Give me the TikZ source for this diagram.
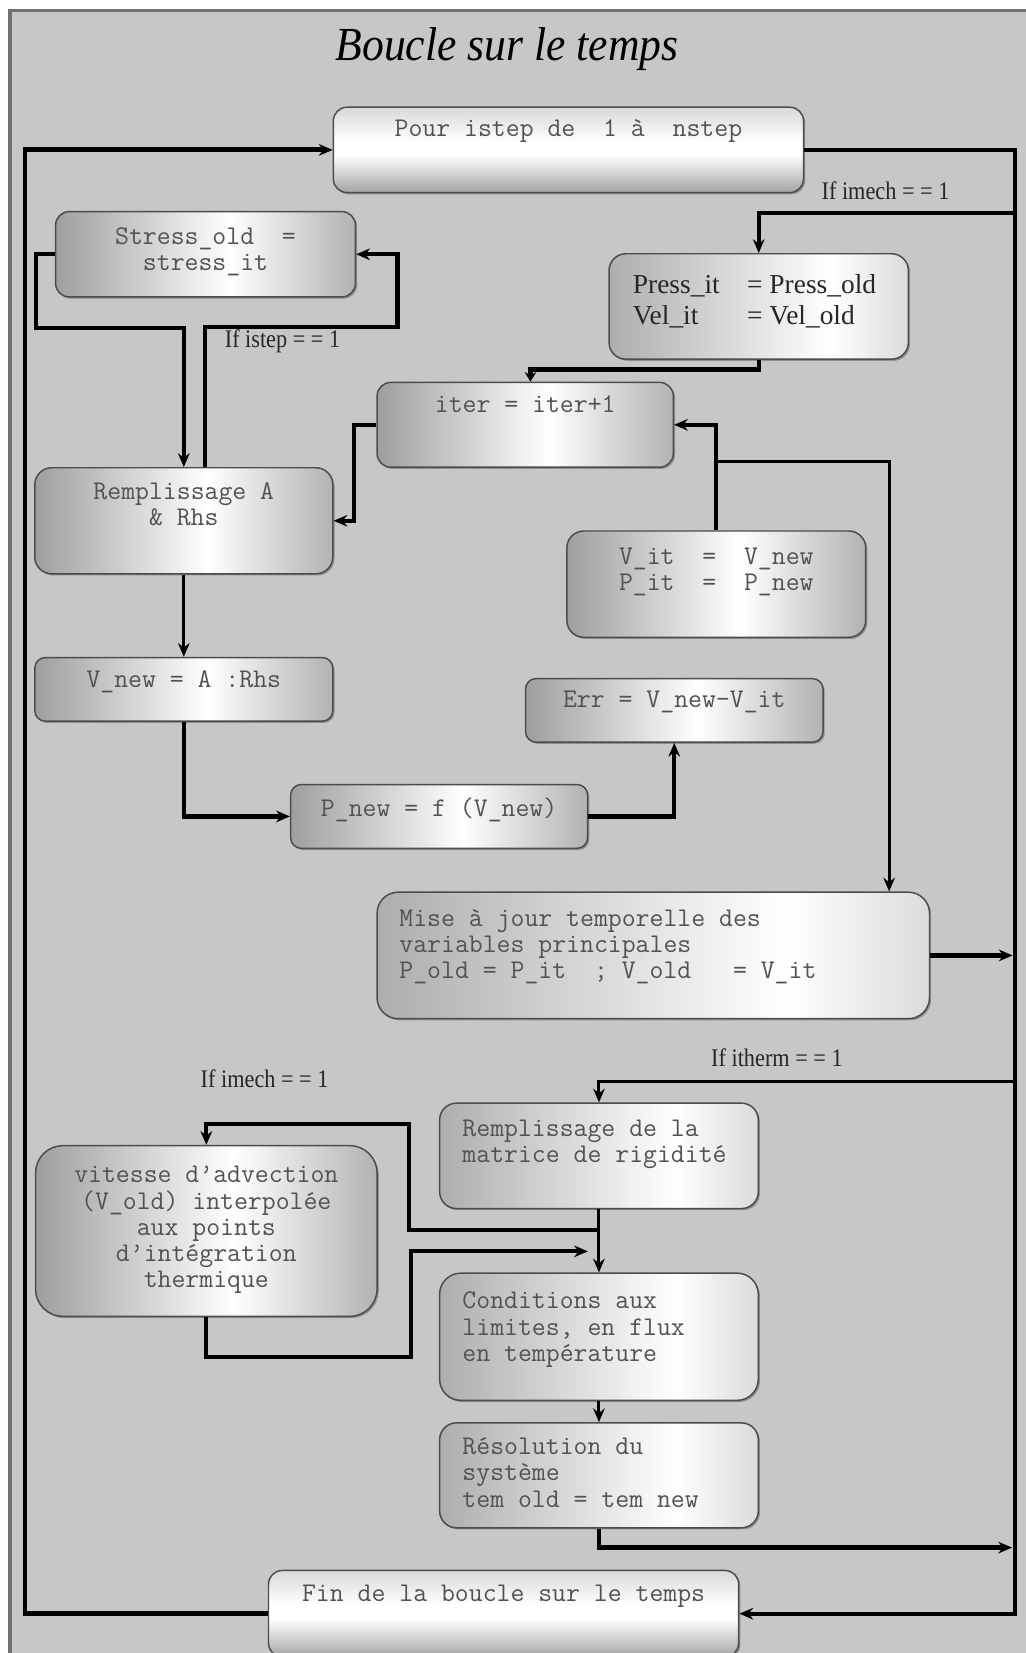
\documentclass[tikz,border=0pt]{standalone}
\usepackage{fontspec}
\usetikzlibrary{arrows.meta,positioning,shadows}

\newfontfamily\serifrm{Liberation Serif}
\newfontfamily\serifnarrow[FakeStretch=0.88]{Liberation Serif}
\newfontfamily\titlefont[FakeStretch=0.92]{Liberation Serif}

\newcommand{\stackc}[1]{\begin{tabular}[t]{@{}c@{}}#1\end{tabular}}
\newcommand{\stackl}[1]{\begin{tabular}[t]{@{}l@{}}#1\end{tabular}}

% box fills
\pgfdeclareverticalshading{lightfill}{100bp}{color(0bp)=(black!36); color(25bp)=(black!36); color(47bp)=(white); color(55bp)=(white); color(75bp)=(black!15); color(100bp)=(black!15)}
\pgfdeclarehorizontalshading{midfill}{100bp}{color(0bp)=(black!38); color(25bp)=(black!38); color(54bp)=(white); color(75bp)=(black!30); color(100bp)=(black!30)}
\pgfdeclarehorizontalshading{sidefill}{100bp}{color(0bp)=(black!32); color(25bp)=(black!32); color(62bp)=(white); color(75bp)=(black!14); color(100bp)=(black!14)}

\tikzset{
  flowbox/.style={draw=black!70, line width=0.7pt, rounded corners=6pt, inner sep=0pt,
    anchor=north west, shade,
    drop shadow={shadow xshift=0.8pt, shadow yshift=-0.8pt, opacity=0.45, fill=black!70}},
  lightbox/.style={flowbox, shading=lightfill},
  midbox/.style={flowbox, shading=midfill},
  sidebox/.style={flowbox, shading=sidefill},
  monotext/.style={font=\ttfamily\fontsize{12.8}{12.4}\selectfont, text=black!68, inner sep=0pt, anchor=base},
  iflabel/.style={font=\serifnarrow\fontsize{12}{14}\selectfont, text=black!85, inner sep=0pt, anchor=base},
  link/.style={->, line width=2pt},
  thinlink/.style={->, line width=1.4pt},
  mainlink/.style={->, line width=2.3pt},
}

\begin{document}
\begin{tikzpicture}[>={Stealth[length=6.5pt,width=5.5pt]}, x=0.5pt, y=-0.5pt]
    \useasboundingbox (0,0) rectangle (973,1568);

    % Frame
    \fill[black!22] (9.5,10) rectangle (990,1590);
    \draw[black!56, line width=1.5pt] (9.5,1590) -- (9.5,10) -- (990,10);

    % Title
    \node[font=\titlefont\itshape\fontsize{22.5}{26}\selectfont, inner sep=0pt, anchor=base] (title) at (481,57) {Boucle sur le temps};

    % Loop head
    \node[lightbox, minimum width=223pt, minimum height=40.5pt, rounded corners=6.5pt] (pour) at (315.5,101) {};
    \node[monotext] (pourtxt) at ([yshift=-14.3pt]pour.north) {Pour istep de~~1 à~~nstep};

    % Stress update
    \node[midbox, minimum width=142.25pt, minimum height=40.5pt, rounded corners=6.5pt] (stress) at (52,200) {};
    \node[monotext] (stresstxt) at ([yshift=-16pt]stress.north) {\stackc{Stress\_old~~=\\stress\_it}};

    % Initial values
    \node[sidebox, minimum width=142pt, minimum height=50pt, rounded corners=8pt] (press) at (577,240) {};
    \node[font=\serifrm\fontsize{13}{15}\selectfont, text=black!85, inner sep=0pt, anchor=base west] (presstxt)
        at ([xshift=11.5pt,yshift=-19pt]press.north west)
        {\begin{tabular}[t]{@{}l@{\hspace{13pt}}l@{}}Press\_it & = Press\_old\\Vel\_it & = Vel\_old\end{tabular}};

    % Nonlinear iterations
    \node[midbox, minimum width=140.5pt, minimum height=40.25pt, rounded corners=6.5pt] (iter) at (357,362) {};
    \node[monotext] (itertxt) at ([yshift=-14.8pt]iter.north) {iter = iter+1};

    \node[midbox, minimum width=141.35pt, minimum height=50.3pt, rounded corners=8pt] (remA) at (32.3,443) {};
    \node[monotext] (remAtxt) at ([yshift=-15.5pt]remA.north) {\stackc{Remplissage A\\\& Rhs}};

    \node[midbox, minimum width=141.75pt, minimum height=50.4pt, rounded corners=8pt] (vit) at (537,503) {};
    \node[monotext] (vittxt) at ([yshift=-16.4pt]vit.north) {\stackc{V\_it~~=~~V\_new\\P\_it~~=~~P\_new}};

    \node[midbox, minimum width=141.35pt, minimum height=30.2pt, rounded corners=5pt] (vnew) at (32.3,623) {};
    \node[monotext] (vnewtxt) at ([yshift=-14.8pt]vnew.north) {V\_new = A :Rhs};

    \node[midbox, minimum width=141.1pt, minimum height=30.15pt, rounded corners=5pt] (err) at (497.8,643) {};
    \node[monotext] (errtxt) at ([yshift=-14.25pt]err.north) {Err = V\_new-V\_it};

    \node[midbox, minimum width=140.85pt, minimum height=30.25pt, rounded corners=5pt] (pnew) at (275,743.5) {};
    \node[monotext] (pnewtxt) at ([yshift=-15.5pt]pnew.north) {P\_new = f (V\_new)};

    % Time update
    \node[sidebox, minimum width=262pt, minimum height=60pt, rounded corners=10pt] (mise) at (357,845.6) {};
    \node[monotext, anchor=base west] (misetxt) at ([xshift=10.75pt,yshift=-16.6pt]mise.north west)
        {\stackl{Mise à jour temporelle des\\variables principales\\P\_old = P\_it~~; V\_old~~~= V\_it}};

    % Thermal part
    \node[sidebox, minimum width=151.15pt, minimum height=50pt, rounded corners=8pt] (remT) at (416.3,1045.7) {};
    \node[monotext, anchor=base west] (remTtxt) at ([xshift=11pt,yshift=-16.2pt]remT.north west)
        {\stackl{Remplissage de la\\matrice de rigidité}};

    \node[midbox, minimum width=162pt, minimum height=81pt, rounded corners=13pt] (adv) at (33,1086) {};
    \node[monotext] (advtxt) at ([yshift=-18pt]adv.north)
        {\stackc{vitesse d’advection\\(V\_old) interpolée\\aux points\\d’intégration\\thermique}};

    \node[sidebox, minimum width=151.15pt, minimum height=60.3pt, rounded corners=10pt] (cond) at (416.3,1207) {};
    \node[monotext, anchor=base west] (condtxt) at ([xshift=11pt,yshift=-17.3pt]cond.north west)
        {\stackl{Conditions aux\\limites, en flux\\en température}};

    \node[sidebox, minimum width=151.15pt, minimum height=49.75pt, rounded corners=8pt] (res) at (416.3,1349) {};
    \node[monotext, anchor=base west] (restxt) at ([xshift=11pt,yshift=-15.5pt]res.north west)
        {\stackl{Résolution du\\système\\tem old = tem new}};

    % Loop end
    \node[lightbox, minimum width=223pt, minimum height=41pt, rounded corners=6.5pt] (fin) at (254,1489) {};
    \node[monotext] (fintxt) at ([yshift=-15pt]fin.north) {Fin de la boucle sur le temps};

    % Bend points
    \coordinate (loopL) at (23.7,800);
    \coordinate (loopR) at (962.5,800);
    \coordinate (mechA) at (962.5,202);
    \coordinate (stressL) at (34,311);
    \coordinate (stressR) at (377,310);
    \coordinate (vitJ) at ([yshift=32.5pt]vit.north);
    \coordinate (thermA) at (962.5,1026);
    \coordinate (advJ) at ([yshift=-10pt]remT.south);
    \coordinate (advUp) at (388,1066);
    \coordinate (advDown) at (389.5,1287);
    \coordinate (advIn) at (557.6,1187);
    \coordinate (resR) at (960,1468);

    % Time loop
    \draw[mainlink] (fin.west) -| (loopL) |- (pour.west);
    \draw[link] (pour.east) -| (loopR) |- (fin.east);

    % Mechanics
    \draw[link] (mechA) -| (press.north);
    \node[iflabel] (mechAlbl) at (840,189.5) {If imech = = 1};
    \draw[line width=2pt, -{Stealth[length=4.5pt,width=5.5pt]}] (press.south) -- ++(0,9) -| ([xshift=2.5pt]iter.north);
    \draw[link] (stress.west) -| (stressL) -| (remA.north);
    \draw[link] ([xshift=10pt]remA.north) |- (stressR) |- (stress.east);
    \node[iflabel] (isteplbl) at (268,330) {If istep = = 1};
    \draw[link] (iter.west) -- ++(-21,0) |- (remA.east);
    \draw[thinlink] (remA.south) -- (vnew.north);
    \draw[link] (vnew.south) |- (pnew.west);
    \draw[link] (pnew.east) -| (err.south);
    \draw[link] (vit.north) |- (iter.east);
    \draw[thinlink] (vitJ) -| ([xshift=-19.5pt]mise.north east);
    \draw[link] (mise.east) -- ([xshift=-1pt]mise.east -| loopR);

    % Thermics
    \draw[thinlink] (thermA) -| (remT.north);
    \node[iflabel] (thermlbl) at (737,1012) {If itherm = = 1};
    \draw[thinlink] (remT.south) -- (cond.north);
    \draw[link] (advJ) -| (advUp) -| (adv.north);
    \node[iflabel] (mechBlbl) at (251,1032) {If imech = = 1};
    \draw[link] (adv.south) |- (advDown) |- (advIn);
    \draw[thinlink] (cond.south) -- (res.north);
    \draw[link] (res.south) |- (resR);
\end{tikzpicture}
\end{document}
